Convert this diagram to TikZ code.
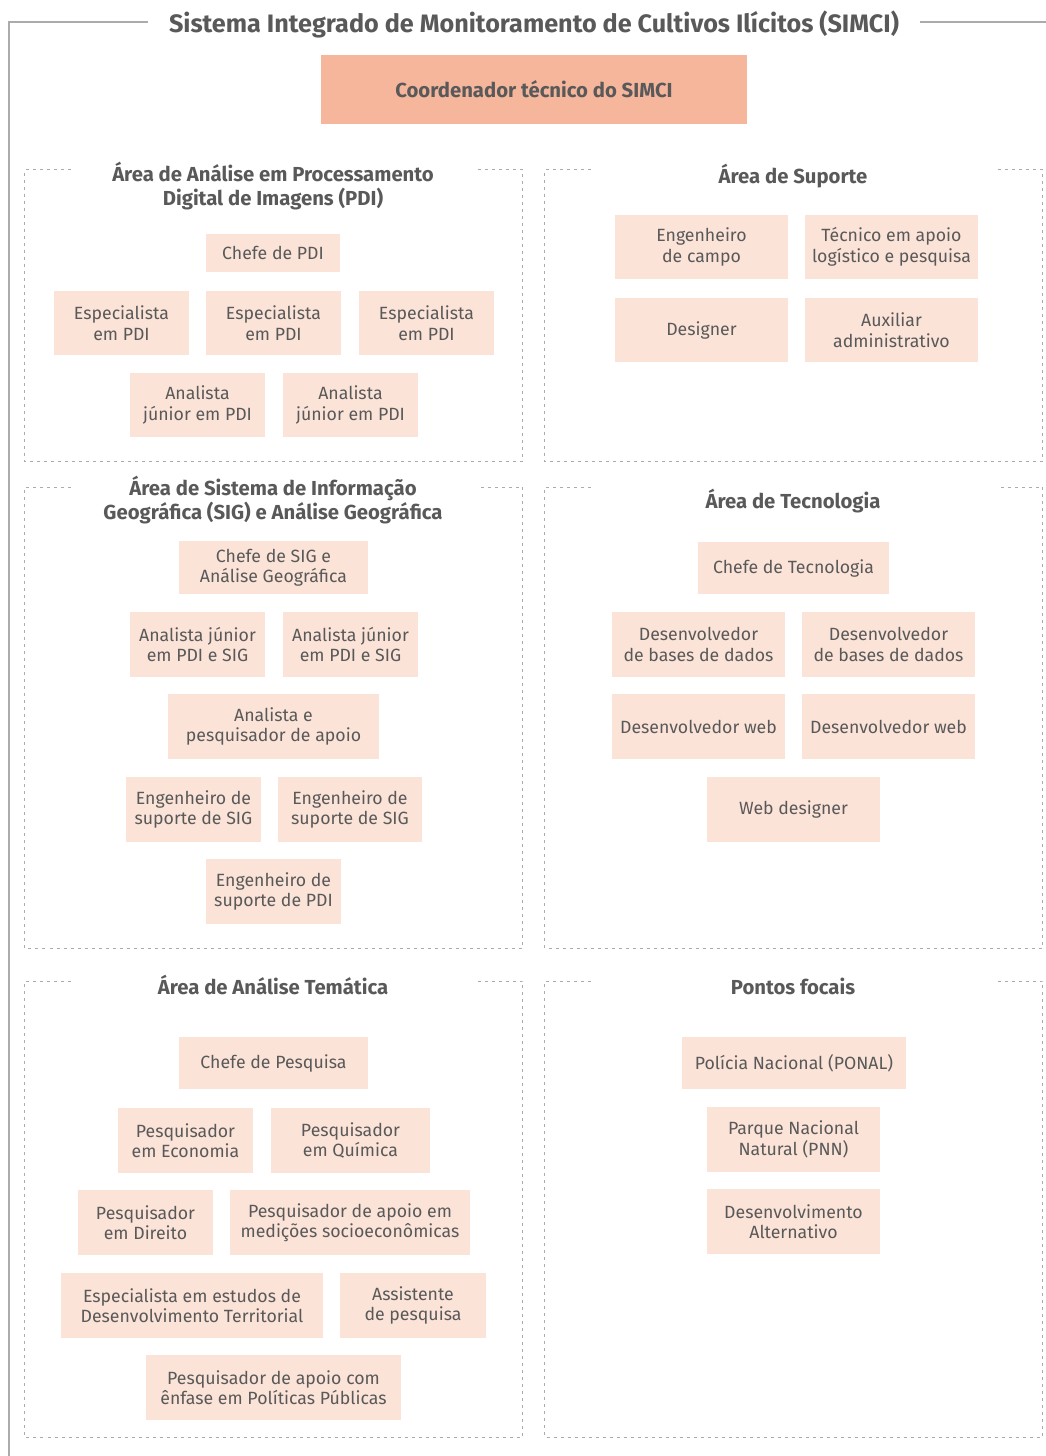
\documentclass[tikz,border=0pt]{standalone}
\usepackage{fontspec}
\setmainfont{Fira Sans}
\usepackage{tikz}

\definecolor{txtgray}{HTML}{595959}
\definecolor{linegray}{HTML}{ABABAB}
\definecolor{chieffill}{HTML}{F6B69C}
\definecolor{rolefill}{HTML}{FBE3D8}

\tikzset{
  frame/.style={draw=linegray, line width=1.3pt},
  areabox/.style={draw=linegray, line width=0.8pt, dash pattern=on 3pt off 4pt},
  bigtitle/.style={text=txtgray, font=\bfseries\fontsize{25.2}{29}\selectfont},
  areatitle/.style={text=txtgray, align=center, font=\bfseries\fontsize{20.3}{24}\selectfont},
  chief/.style={fill=chieffill, text=txtgray, inner sep=0pt, font=\bfseries\fontsize{20.3}{24}\selectfont},
  role/.style 2 args={fill=rolefill, text=txtgray, align=center, inner sep=0pt,
    minimum width=#1pt, minimum height=#2pt, font=\fontsize{17.7}{20.5}\selectfont}
}

\begin{document}
\begin{tikzpicture}[x=1pt, y=-1pt]
\useasboundingbox (0,0) rectangle (1046,1456);

% outer frame and main title
\node[bigtitle] (title) at (534,24) {Sistema Integrado de Monitoramento de Cultivos Ilícitos (SIMCI)};
\coordinate (frameL) at (148,22);
\coordinate (frameR) at (920,22);
\draw[frame] (frameL) -- (9,22) -- (9,1456);
\draw[frame] (frameR) -- (1046,22);

\node[chief, minimum width=426pt, minimum height=69pt] (coord) at (534,89.5) {Coordenador técnico do SIMCI};

% dashed area frames (top edge only at the corners)
\foreach \xa/\ya/\xb/\yb in {24.5/169.5/522.5/461, 544.5/169.5/1042.5/461,
                              24.5/487/522.5/948, 544.5/487/1042.5/948,
                              24.5/981/522.5/1437, 544.5/981/1042.5/1437}
  \draw[areabox] (\xa+46,\ya) -- (\xa,\ya) -- (\xa,\yb) -- (\xb,\yb) -- (\xb,\ya) -- (\xb-45,\ya);

% Area de PDI
\node[areatitle] (pdiTitle) at (273,186) {Área de Análise em Processamento\\Digital de Imagens (PDI)};
\node[role={134}{38}] (pdiChefe) at (273,253) {Chefe de PDI};
\node[role={135}{64}] (pdiEsp1) at (121.5,323) {Especialista\\em PDI};
\node[role={135}{64}] (pdiEsp2) at (273.5,323) {Especialista\\em PDI};
\node[role={135}{64}] (pdiEsp3) at (426.5,323) {Especialista\\em PDI};
\node[role={135}{64}] (pdiAna1) at (197.5,405) {Analista\\júnior em PDI};
\node[role={135}{64}] (pdiAna2) at (350.5,405) {Analista\\júnior em PDI};

% Area de Suporte
\node[areatitle] (supTitle) at (793,176) {Área de Suporte};
\node[role={173}{64}] (supEng) at (701.5,247) {Engenheiro\\de campo};
\node[role={173}{64}] (supTec) at (891.5,247) {Técnico em apoio\\logístico e pesquisa};
\node[role={173}{64}] (supDes) at (701.5,330) {Designer};
\node[role={173}{64}] (supAux) at (891.5,330) {Auxiliar\\administrativo};

% Area de SIG
\node[areatitle] (sigTitle) at (273,500) {Área de Sistema de Informação\\Geográfica (SIG) e Análise Geográfica};
\node[role={189}{53}] (sigChefe) at (273.5,567.5) {Chefe de SIG e\\Análise Geográfica};
\node[role={135}{65}] (sigAna1) at (197.5,644.5) {Analista júnior\\em PDI e SIG};
\node[role={135}{65}] (sigAna2) at (350.5,644.5) {Analista júnior\\em PDI e SIG};
\node[role={211}{65}] (sigApoio) at (273.5,726.5) {Analista e\\pesquisador de apoio};
\node[role={135}{65}] (sigEng1) at (193.5,809.5) {Engenheiro de\\suporte de SIG};
\node[role={144}{65}] (sigEng2) at (350,809.5) {Engenheiro de\\suporte de SIG};
\node[role={135}{65}] (sigEngPdi) at (273.5,891.5) {Engenheiro de\\suporte de PDI};

% Area de Tecnologia
\node[areatitle] (tecTitle) at (793,501) {Área de Tecnologia};
\node[role={191}{52}] (tecChefe) at (793.5,568) {Chefe de Tecnologia};
\node[role={173}{65}] (tecBd1) at (698.5,644.5) {Desenvolvedor\\de bases de dados};
\node[role={173}{65}] (tecBd2) at (888.5,644.5) {Desenvolvedor\\de bases de dados};
\node[role={173}{65}] (tecWeb1) at (698.5,726.5) {Desenvolvedor web};
\node[role={173}{65}] (tecWeb2) at (888.5,726.5) {Desenvolvedor web};
\node[role={173}{65}] (tecDesigner) at (793.5,809.5) {Web designer};

% Area de Analise Tematica
\node[areatitle] (temTitle) at (273,985) {Área de Análise Temática};
\node[role={189}{52}] (temChefe) at (273.5,1063) {Chefe de Pesquisa};
\node[role={135}{65}] (temEco) at (185.5,1140.5) {Pesquisador\\em Economia};
\node[role={159}{65}] (temQui) at (350.5,1140.5) {Pesquisador\\em Química};
\node[role={135}{65}] (temDir) at (145.5,1222.5) {Pesquisador\\em Direito};
\node[role={240}{65}] (temMed) at (350,1222.5) {Pesquisador de apoio em\\medições socioeconômicas};
\node[role={262}{65}] (temEsp) at (192,1305.5) {Especialista em estudos de\\Desenvolvimento Territorial};
\node[role={146}{65}] (temAss) at (413,1305.5) {Assistente\\de pesquisa};
\node[role={255}{65}] (temPP) at (273.5,1387.5) {Pesquisador de apoio com\\ênfase em Políticas Públicas};

% Pontos focais
\node[areatitle] (focTitle) at (793,986) {Pontos focais};
\node[role={224}{52}] (focPonal) at (794,1063) {Polícia Nacional (PONAL)};
\node[role={173}{65}] (focPnn) at (793.5,1139.5) {Parque Nacional\\Natural (PNN)};
\node[role={173}{65}] (focDa) at (793.5,1221.5) {Desenvolvimento\\Alternativo};

\end{tikzpicture}
\end{document}
